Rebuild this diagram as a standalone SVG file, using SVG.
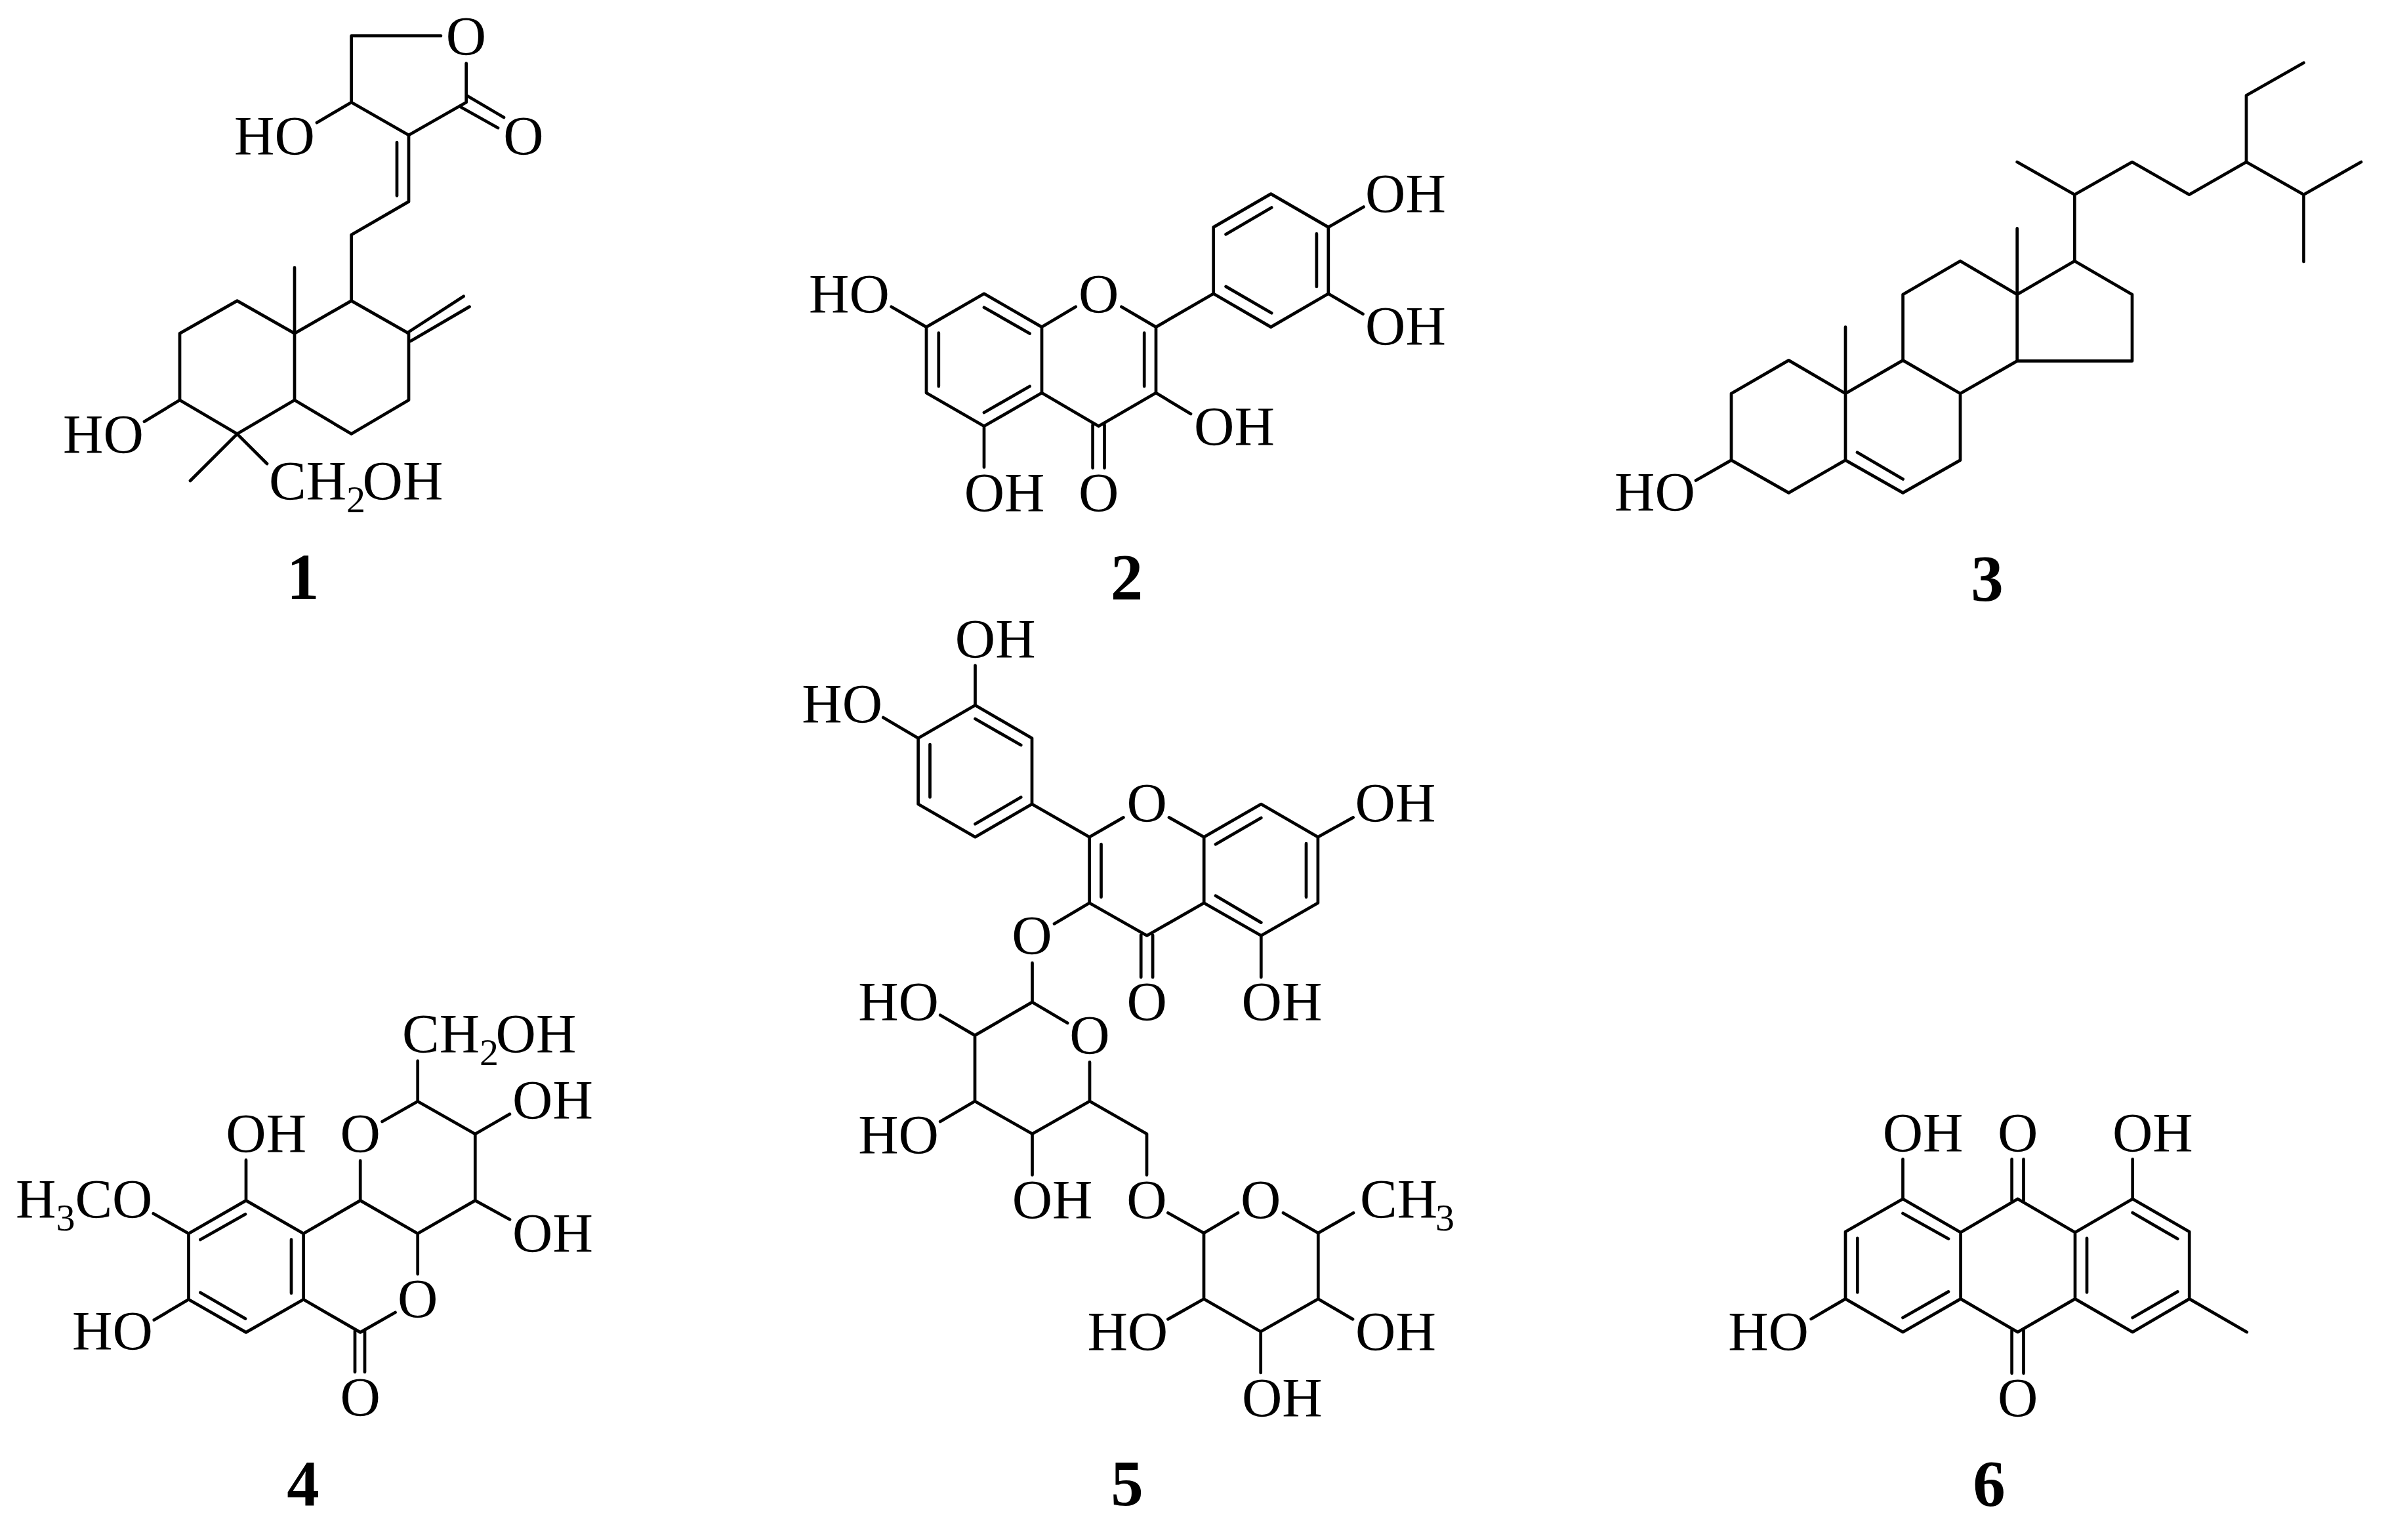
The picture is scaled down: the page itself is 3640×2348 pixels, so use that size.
<svg xmlns="http://www.w3.org/2000/svg" width="3640" height="2348" viewBox="0 0 3640 2348">
<style>
.b{fill:none;stroke:#000;stroke-width:4.7;stroke-linecap:round;stroke-linejoin:round}
text{font-family:"Liberation Serif","Times New Roman",serif;fill:#000}
.t{font-size:85px}
.m{text-anchor:middle}
.s{font-size:58px}
.n{font-size:99px;font-weight:bold;text-anchor:middle}
</style>
<rect width="3640" height="2348" fill="#fff"/>
<g id="compound-1">
<path class="b" d="M672 54.7H535.6V156L623 206L710.7 156V96.5M483 187L535.6 156M712 146L768 179M702 163L759 195M623 206V307.4L535.6 358V458.6L623 508.4V610L535.6 661.6L449 610V508.4L535.6 458.6M605 217V298.5M621 507.4L706.7 451.7M626 520L715.6 467.6M449 508.4V408M449 508.4L361.5 458.6L274 508.4V610L361.5 661.6L449 610M274 610L220 642.7M361.5 661.6L290 733M361.5 661.6L407 707"/>
<text class="t m" x="710.5" y="84">O</text>
<text class="t m" x="798" y="236">O</text>
<text class="t" x="357" y="236">HO</text>
<text class="t" x="96" y="690.5">HO</text>
<text class="t" x="410" y="762">CH<tspan class="s" dy="19">2</tspan><tspan dx="-4.5" dy="-19">OH</tspan></text>
<text class="n" x="461.7" y="913">1</text>
</g>
<g id="compound-2">
<path class="b" d="M1639.7 467.7L1588 498.6L1500 447.8L1412 498.6V599L1500 649.8L1588 599V498.6M1588 599L1674.6 649.8L1762 599V498.6L1709.4 467.7M1762 498.6L1849.7 447.8V346.4L1937.2 295.6L2024.8 346.4V447.8L1937.2 498.6L1849.7 447.8M2024.8 346.4L2078.5 315.5M2024.8 447.8L2077.5 478.7M1762 599L1815 631M1500 649.8V712.5M1665.6 647.8V713.5M1683.5 647.8V713.5M1412 498.6L1358.7 467.7M1430.8 507.5V589M1500 468.7L1569.6 508.5M1500 629L1569.6 589M1744.2 507.5V589M1868.6 357.3L1938.2 316.5M2006.9 356.3V436.9M1868.6 436.9L1938.2 477.2"/>
<text class="t m" x="1674.6" y="476.7">O</text>
<text class="t" x="2081" y="323.5">OH</text>
<text class="t" x="2081" y="526.4">OH</text>
<text class="t" x="1820" y="678.6">OH</text>
<text class="t" x="1469.7" y="780">OH</text>
<text class="t m" x="1674.6" y="780">O</text>
<text class="t" x="1233" y="476.7">HO</text>
<text class="n" x="1717.4" y="913">2</text>
</g>
<g id="compound-3">
<path class="b" d="M2639 600L2726.5 549.4L2813 600V701.6L2726.5 751.4L2639 701.6ZM2639 701.6L2585 732.5M2813 600V498.6M2813 600L2900.6 549.4L2988 600V701.6L2900.6 751.4L2813 701.6M2831 689.7L2900.6 730.5M2900.6 549.4V449L2988 398L3074.7 449V550.4L2988 600M3074.7 449V348.4M3074.7 449L3162.3 398L3250 449V550.4H3074.7M3162.3 398V296.7L3074.7 247M3162.3 296.7L3250 247L3337 296.7L3424 247V145.5L3511.5 95.7M3424 247L3511.5 296.7L3599 247M3511.5 296.7V399"/>
<text class="t" x="2461" y="779">HO</text>
<text class="n" x="3029" y="914.5">3</text>
</g>
<g id="compound-4">
<path class="b" d="M375 1830.4L287.5 1880.7V1981.2L375 2031.4L462.6 1981.2V1880.7L375 1830.4M462.6 1880.7L549.2 1830.4L636.7 1880.7L724.3 1830.4V1729L636.7 1679.2L582.6 1710M549.2 1830.4V1769.7M636.7 1679.2V1617.5M724.3 1729L777 1698.6M724.3 1830.4L777 1859.3M375 1830.4V1768.7M287.5 1880.7L233.8 1850.3M287.5 1981.2L234.8 2012.5M636.7 1880.7V1942.4M462.6 1981.2L549.2 2031.4L602.5 2001M541 2027.4V2092M556 2027.4V2092M305.4 1890L374 1851.3M444 1890V1971.7M305.4 1970.7L374 2010.5"/>
<text class="t m" x="549.2" y="1756.8">O</text>
<text class="t" x="613" y="1604.6">CH<tspan class="s" dy="19">2</tspan><tspan dx="-4.5" dy="-19">OH</tspan></text>
<text class="t" x="781" y="1706">OH</text>
<text class="t" x="781" y="1909">OH</text>
<text class="t" x="344.3" y="1756.8">OH</text>
<text class="t" x="24" y="1857.3">H<tspan class="s" dy="19">3</tspan><tspan dy="-19">CO</tspan></text>
<text class="t" x="110" y="2058.2">HO</text>
<text class="t m" x="636.7" y="2008.5">O</text>
<text class="t m" x="549.2" y="2158.7">O</text>
<text class="n" x="462" y="2295">4</text>
</g>
<g id="compound-5">
<path class="b" d="M1486.5 1075.3L1573 1125.5V1226L1486.5 1276.2L1399.6 1226V1125.5ZM1486.5 1075.3V1014.6M1399.6 1125.5L1346.3 1094M1486.5 1096L1556.2 1136M1417.5 1135V1215.5M1486.5 1256.3L1556.2 1215.5M1573 1226L1660.6 1276.2L1712.4 1246.4M1782 1246.4L1835.2 1276.2V1376.7L1748.2 1426.5L1660.6 1376.7V1276.2M1678.5 1287.2V1367.8M1835.2 1276.2L1922.3 1226L2008.9 1276.2V1376.7L1922.3 1426.5L1835.2 1376.7M1853 1287.2L1922.3 1247M1991 1286.2V1367.8M1853 1365.8L1922.3 1406.6M2008.9 1276.2L2062.6 1246.4M1922.3 1426.5V1490M1739.2 1425.5V1490M1757.1 1425.5V1490M1660.6 1376.7L1607 1408.5M1573.5 1468.2V1527.9L1627.2 1559.7M1573.5 1527.9L1486 1578.6V1679L1573.5 1728.8L1661 1679V1619.4M1486 1578.6L1433.2 1547.8M1486 1679L1433.2 1710M1573.5 1728.8V1791.5M1661 1679L1748 1728.8V1791.5M1780.4 1849.2L1835 1880L1887 1849.2M1956 1849.2L2009.3 1880L2063 1849.2M1835 1880V1980.5L1921.7 2030.3L2009.3 1980.5V1880M1835 1980.5L1780.4 2011.4M2009.3 1980.5L2062 2011.4M1921.7 2030.3V2093"/>
<text class="t" x="1455.8" y="1002.6">OH</text>
<text class="t" x="1222.3" y="1102">HO</text>
<text class="t m" x="1748.2" y="1253.3">O</text>
<text class="t" x="2065.6" y="1253.3">OH</text>
<text class="t" x="1892.5" y="1555.8">OH</text>
<text class="t m" x="1748.2" y="1555.8">O</text>
<text class="t m" x="1573" y="1455.3">O</text>
<text class="t m" x="1661" y="1607.4">O</text>
<text class="t" x="1308.2" y="1555.7">HO</text>
<text class="t" x="1308.2" y="1758.7">HO</text>
<text class="t" x="1542.7" y="1858">OH</text>
<text class="t m" x="1748" y="1858">O</text>
<text class="t m" x="1921.7" y="1858">O</text>
<text class="t" x="2073" y="1857">CH<tspan class="s" dx="-3" dy="19">3</tspan></text>
<text class="t" x="1657.4" y="2059">HO</text>
<text class="t" x="2066.1" y="2059">OH</text>
<text class="t" x="1892.9" y="2159.6">OH</text>
<text class="n" x="1718" y="2295">5</text>
</g>
<g id="compound-6">
<path class="b" d="M2900.5 1828L2813 1878V1980.4L2900.5 2031L2988.6 1980.4V1879L2900.5 1828M2988.6 1879L3075.6 1828L3163 1879V1980.4L3075.6 2031L2988.6 1980.4M3163 1879L3250.7 1828L3337.2 1878V1980.4L3250.7 2031L3163 1980.4M3337.2 1980.4L3424.8 2031M2900.5 1828V1767.4M3066.6 1767.4V1831M3084.5 1767.4V1831M3250.7 1828V1767.4M3066.6 2028V2093.8M3084.5 2028V2093.8M2813 1980.4L2760.7 2011M2900.5 1850L2970 1888.8M2831.3 1887.8V1970.4M2900.5 2009L2970 1969.4M3181 1887.8V1970.4M3250.7 1849L3319.3 1888.8M3250.7 2009L3319.3 1969.4"/>
<text class="t" x="2869.7" y="1755.5">OH</text>
<text class="t m" x="3075.6" y="1755.5">O</text>
<text class="t" x="3219.9" y="1755.5">OH</text>
<text class="t m" x="3075.6" y="2160.4">O</text>
<text class="t" x="2634.2" y="2059">HO</text>
<text class="n" x="3032" y="2295">6</text>
</g>
</svg>
